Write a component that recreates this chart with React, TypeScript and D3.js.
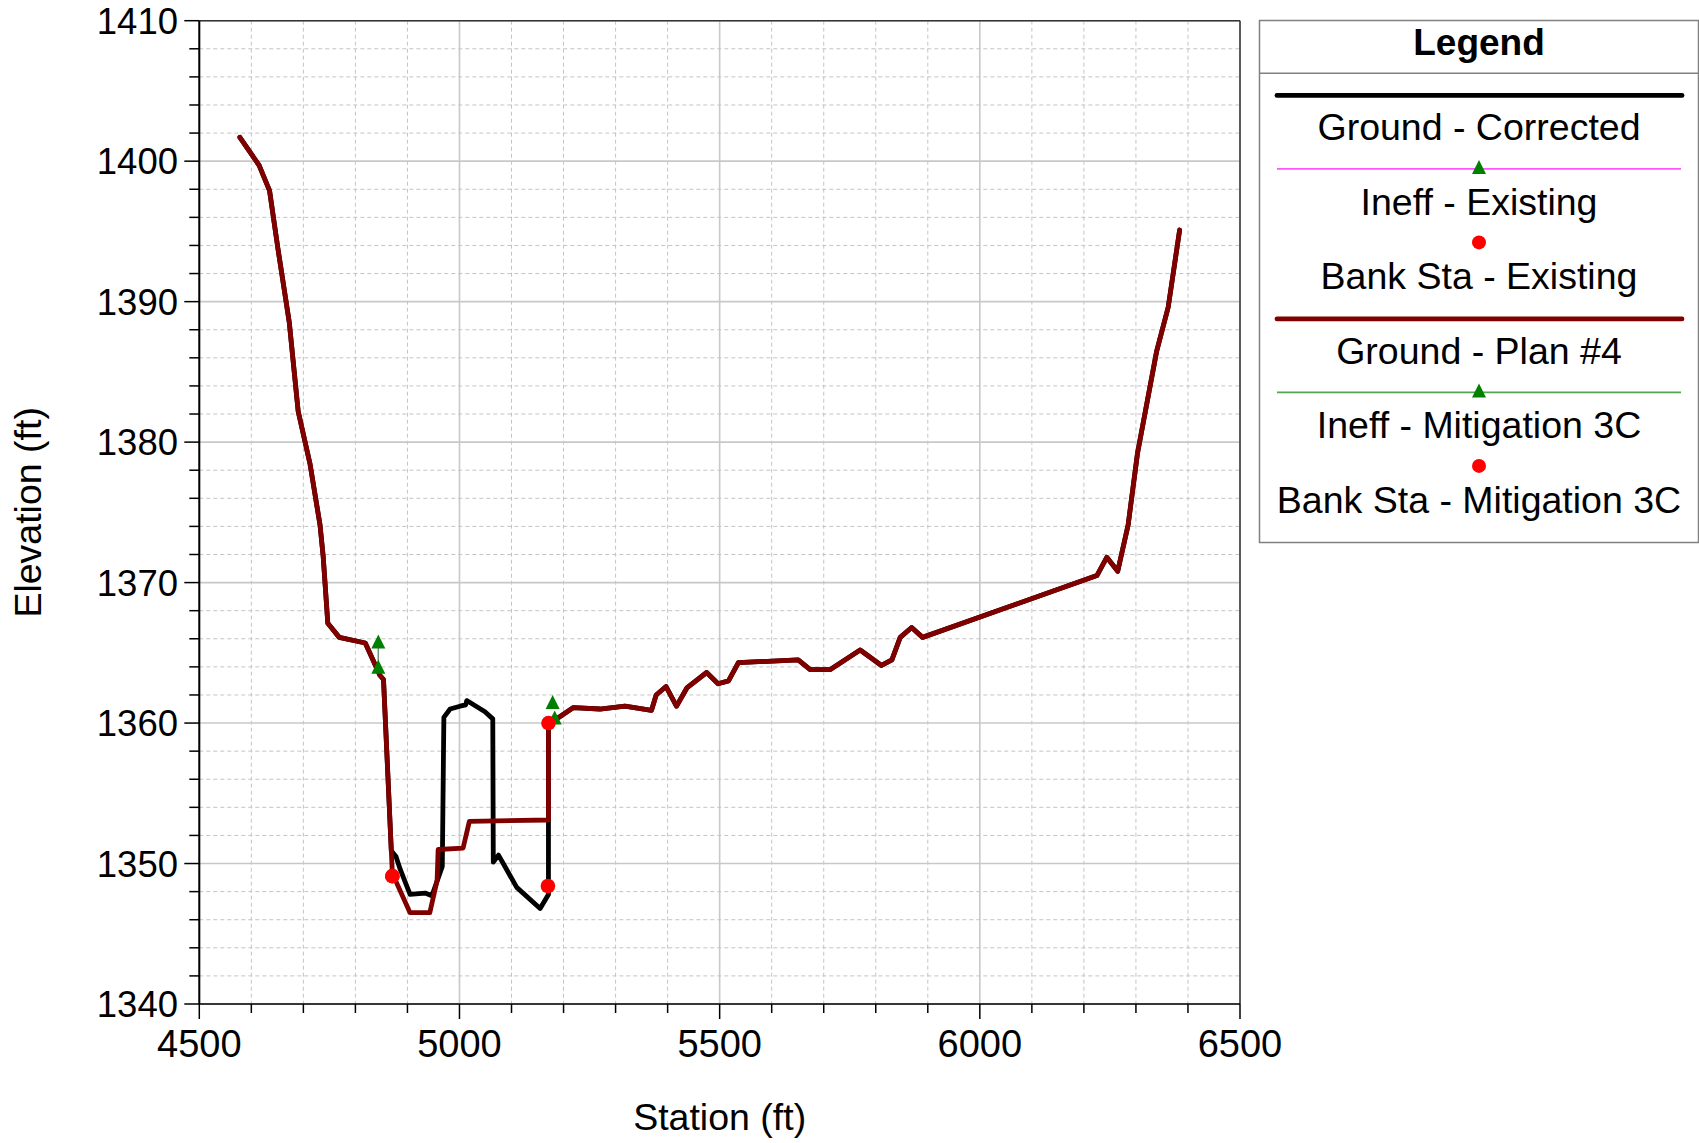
import React from "react";
import * as d3 from "d3";

// ---- Data ----
const leftSta = [4578, 4615, 4635, 4651, 4673, 4690, 4713, 4732, 4738, 4747, 4769, 4819, 4847, 4854];
const leftElev = [1401.7, 1399.7, 1397.9, 1393.8, 1388.5, 1382.2, 1378.4, 1374.1, 1371.9, 1367.1, 1366.1, 1365.7, 1363.4, 1363.1];

const planChannelSta = [4871, 4905, 4943, 4957, 4959, 5007, 5019, 5171, 5171];
const planChannelElev = [1349.3, 1346.5, 1346.5, 1348.8, 1351.0, 1351.1, 1353.0, 1353.1, 1360.0];

const corrChannelSta = [4869, 4878, 4886, 4905, 4934, 4947, 4967, 4970, 4982, 5001, 5012, 5014, 5049, 5064, 5065, 5075, 5110, 5155, 5171, 5171];
const corrChannelElev = [1350.9, 1350.5, 1349.6, 1347.8, 1347.9, 1347.7, 1349.8, 1360.4, 1361.0, 1361.2, 1361.3, 1361.6, 1360.8, 1360.3, 1350.1, 1350.6, 1348.3, 1346.8, 1347.8, 1360.0];

const rightSta = [5187, 5219, 5270, 5318, 5369, 5378, 5397, 5417, 5437, 5475, 5497, 5517, 5536, 5651, 5674, 5712, 5770, 5811, 5831, 5847, 5869, 5890, 6225, 6244, 6265, 6285, 6303, 6340, 6362, 6384];
const rightElev = [1360.3, 1361.1, 1361.0, 1361.2, 1360.9, 1362.0, 1362.6, 1361.2, 1362.5, 1363.6, 1362.8, 1363.0, 1364.3, 1364.5, 1363.8, 1363.8, 1365.2, 1364.1, 1364.5, 1366.1, 1366.8, 1366.1, 1370.5, 1371.8, 1370.8, 1374.1, 1379.2, 1386.5, 1389.6, 1395.1];

const ineffExistingSta = [4844, 5179];
const ineffExistingElev = [1365.8, 1361.5];
const ineffMitigationSta = [4844, 5183];
const ineffMitigationElev = [1364.0, 1360.4];

const bankExistingSta = [4871, 5170];
const bankExistingElev = [1349.1, 1348.4];
const bankMitigationSta = [4871, 5171];
const bankMitigationElev = [1349.1, 1360.0];

const xTicks = [4500, 5000, 5500, 6000, 6500];
const yTicks = [1340, 1350, 1360, 1370, 1380, 1390, 1400, 1410];

const legendItems = [
  { label: "Ground - Corrected", kind: "line", color: "#000000" },
  { label: "Ineff - Existing", kind: "tri", color: "#ff55ff" },
  { label: "Bank Sta - Existing", kind: "dot", color: "#ff0000" },
  { label: "Ground - Plan #4", kind: "line", color: "#800000" },
  { label: "Ineff - Mitigation 3C", kind: "tri", color: "#4fa84f" },
  { label: "Bank Sta - Mitigation 3C", kind: "dot", color: "#ff0000" },
];

const FONT = "'Liberation Sans', Arial, Helvetica, sans-serif";

function zip(a: number[], b: number[]): [number, number][] {
  return a.map((v, i) => [v, b[i]]);
}

export default function App() {
  const W = 1699, H = 1143;
  const left = 199.3, right = 1240, top = 20.7, bottom = 1004;
  const x = d3.scaleLinear().domain([4500, 6500]).range([left, right]);
  const y = d3.scaleLinear().domain([1340, 1410]).range([bottom, top]);

  const plan = [...zip(leftSta, leftElev), ...zip(planChannelSta, planChannelElev), ...zip(rightSta, rightElev)];
  const corr = [...zip(leftSta, leftElev), ...zip(corrChannelSta, corrChannelElev), ...zip(rightSta, rightElev)];
  const line = d3.line<[number, number]>().x(d => x(d[0])).y(d => y(d[1]));

  const minorX = d3.range(4500, 6501, 100);
  const minorY = d3.range(1340, 1411, 2);

  const tri = (cx: number, cy: number, s = 7) => `M${cx},${cy - s}L${cx + s},${cy + s}L${cx - s},${cy + s}Z`;

  const lgX0 = 1259, lgX1 = 1699, lgC = (lgX0 + lgX1) / 2;
  const lgStart = 95.4, lgStep = 74.5;

  return (
    <svg width={W} height={H} style={{ position: "absolute", left: 0, top: 0, background: "#fff" }} fontFamily={FONT}>
      <rect x={0} y={0} width={W} height={H} fill="#fff" />
      {/* grid */}
      {minorX.map(v => (
        <line key={"gx" + v} x1={x(v)} x2={x(v)} y1={top} y2={bottom}
          stroke={v % 500 === 0 ? "#c8c8c8" : "#c4c4c4"} strokeWidth={v % 500 === 0 ? 1.6 : 1}
          strokeDasharray={v % 500 === 0 ? undefined : "4,3"} />
      ))}
      {minorY.map(v => (
        <line key={"gy" + v} x1={left} x2={right} y1={y(v)} y2={y(v)}
          stroke={v % 10 === 0 ? "#c8c8c8" : "#c4c4c4"} strokeWidth={v % 10 === 0 ? 1.6 : 1}
          strokeDasharray={v % 10 === 0 ? undefined : "4,3"} />
      ))}
      {/* frame */}
      <line x1={left} x2={right} y1={top} y2={top} stroke="#333" strokeWidth={1.5} />
      <line x1={right} x2={right} y1={top} y2={bottom} stroke="#333" strokeWidth={1.5} />
      <line x1={left} x2={right} y1={bottom} y2={bottom} stroke="#000" strokeWidth={1.5} />
      <line x1={left} x2={left} y1={top} y2={bottom} stroke="#000" strokeWidth={2} />
      {/* ticks */}
      {minorX.map(v => (
        <line key={"tx" + v} x1={x(v)} x2={x(v)} y1={bottom} y2={bottom + (v % 500 === 0 ? 15 : 9)} stroke="#000" strokeWidth={1.5} />
      ))}
      {minorY.map(v => (
        <line key={"ty" + v} x1={left - (v % 10 === 0 ? 15 : 10)} x2={left} y1={y(v)} y2={y(v)} stroke="#000" strokeWidth={1.5} />
      ))}
      {xTicks.map(v => (
        <text key={"lx" + v} x={x(v)} y={1057} textAnchor="middle" fontSize={38} fill="#000">{v}</text>
      ))}
      {yTicks.map(v => (
        <text key={"ly" + v} x={178} y={y(v) + 13} textAnchor="end" fontSize={36.5} fill="#000">{v}</text>
      ))}
      <text x={(left + right) / 2} y={1130} textAnchor="middle" fontSize={37.5} fill="#000">Station (ft)</text>
      <text transform={`translate(41,${(top + bottom) / 2}) rotate(-90)`} textAnchor="middle" fontSize={37.5} fill="#000">Elevation (ft)</text>

      {/* data */}
      <path d={line(corr) || ""} fill="none" stroke="#000" strokeWidth={4.8} strokeLinejoin="round" strokeLinecap="round" />
      <path d={line(plan) || ""} fill="none" stroke="#800000" strokeWidth={4.8} strokeLinejoin="round" strokeLinecap="round" />
      <line x1={x(ineffExistingSta[0])} x2={x(ineffExistingSta[0])} y1={y(ineffMitigationElev[0])} y2={y(ineffExistingElev[0])} stroke="#7a8a7a" strokeWidth={1.5} />
      {ineffExistingSta.map((s, i) => (
        <path key={"ie" + i} d={tri(x(s), y(ineffExistingElev[i]))} fill="#008000" />
      ))}
      {ineffMitigationSta.map((s, i) => (
        <path key={"im" + i} d={tri(x(s), y(ineffMitigationElev[i]))} fill="#008000" />
      ))}
      {bankExistingSta.map((s, i) => (
        <circle key={"be" + i} cx={x(s)} cy={y(bankExistingElev[i])} r={7.3} fill="#ff0000" />
      ))}
      {bankMitigationSta.map((s, i) => (
        <circle key={"bm" + i} cx={x(s)} cy={y(bankMitigationElev[i])} r={7.3} fill="#ff0000" />
      ))}

      {/* legend */}
      <rect x={lgX0 + 0.5} y={20.5} width={lgX1 - lgX0 - 1} height={522} fill="#fff" stroke="#808080" strokeWidth={1.5} />
      <line x1={lgX0} x2={lgX1} y1={73.2} y2={73.2} stroke="#808080" strokeWidth={1.5} />
      <text x={lgC} y={55} textAnchor="middle" fontSize={37} fontWeight="bold" fill="#000">Legend</text>
      {legendItems.map((it, i) => {
        const ly = lgStart + i * lgStep;
        return (
          <g key={"lg" + i}>
            {it.kind === "line" && (
              <line x1={1277} x2={1682} y1={ly} y2={ly} stroke={it.color} strokeWidth={4.8} strokeLinecap="round" />
            )}
            {it.kind === "tri" && (
              <g>
                <line x1={1277} x2={1681} y1={ly - 1} y2={ly - 1} stroke={it.color} strokeWidth={1.6} />
                <path d={tri(lgC, ly - 3)} fill="#008000" />
              </g>
            )}
            {it.kind === "dot" && <circle cx={lgC} cy={ly - 2} r={7} fill={it.color} />}
            <text x={lgC} y={ly + 45} textAnchor="middle" fontSize={37.5} fill="#000">{it.label}</text>
          </g>
        );
      })}
    </svg>
  );
}
